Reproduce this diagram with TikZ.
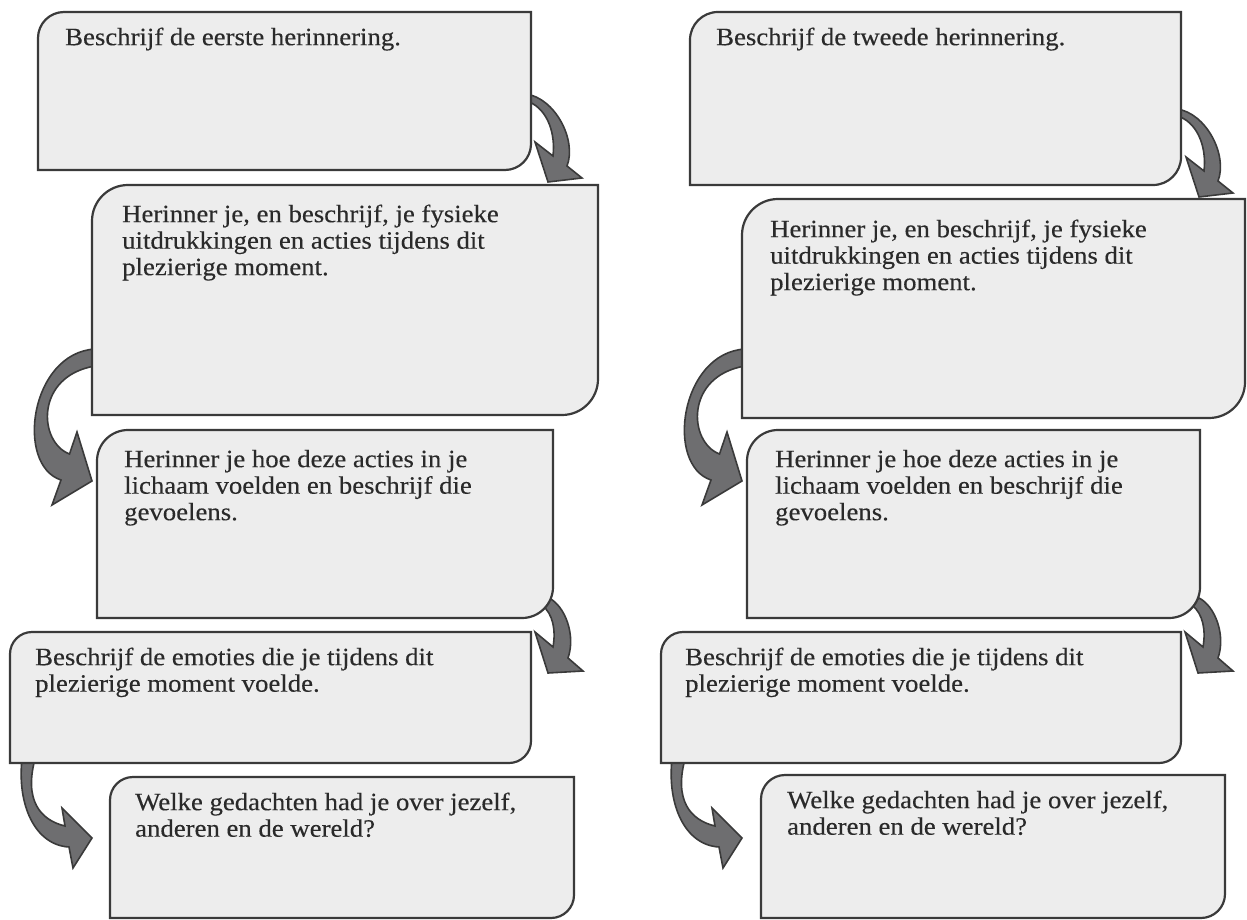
\documentclass[tikz,border=0pt]{standalone}
\usepackage{fontspec}
\setmainfont{Liberation Serif}[FakeStretch=1.07,FakeBold=0.25]
\definecolor{boxfill}{HTML}{EDEDED}
\definecolor{boxline}{HTML}{3A3A3A}
\definecolor{arrowfill}{HTML}{6E6E70}
\definecolor{textcol}{HTML}{2A2A2A}

% box with rounded top-left and bottom-right corners: x1 y1 x2 y2 radius
\newcommand\memobox[5]{%
  \filldraw[boxstyle] (#1,#4) -- (#1,{#2+#5})
    .. controls (#1,{#2+0.448*#5}) and ({#1+0.448*#5},#2) .. ({#1+#5},#2)
    -- (#3,#2) -- (#3,{#4-#5})
    .. controls (#3,{#4-0.448*#5}) and ({#3-0.448*#5},#4) .. ({#3-#5},#4)
    -- cycle;}

% curved block arrows
\newcommand\arrowTopRight{%
  \filldraw[arrowstyle] (526,94) .. controls (555,98) and (577,140) .. (567,166)
    -- (582,178) -- (548,182) -- (535,142) -- (553,156)
    .. controls (556,130) and (545,106) .. (526,101) -- cycle;}
\newcommand\arrowMidLeft{%
  \filldraw[arrowstyle] (95,349) .. controls (30,353) and (15,465) .. (61,480)
    -- (52,505) -- (92,481) -- (77,432) -- (69.5,454)
    .. controls (38,442) and (35,376) .. (95,366) -- cycle;}
\newcommand\arrowMidRight{%
  \filldraw[arrowstyle] (549,598) .. controls (565,606) and (576,635) .. (568,658)
    -- (583,671) -- (548,673) -- (535,632) -- (553,647)
    .. controls (556,630) and (553,614) .. (542,605) -- cycle;}
\newcommand\arrowLowLeft{%
  \filldraw[arrowstyle] (22,759) .. controls (17,805) and (35,845) .. (69,847)
    -- (73,868) -- (92,838) -- (62,808) -- (65,826)
    .. controls (40,820) and (24,800) .. (35,759) -- cycle;}
\newcommand\fl{\rule{0pt}{18pt}}

\begin{document}
\begin{tikzpicture}[x=1pt,y=-1pt,
  boxstyle/.style={fill=boxfill,draw=boxline,line width=2.2pt,line join=miter},
  arrowstyle/.style={fill=arrowfill,draw=boxline,line width=1.6pt,line join=miter},
  txt/.style={font=\fontsize{25}{26.5}\selectfont,align=left,inner sep=0pt,
    text=textcol,anchor=north west}]
\useasboundingbox (0,0) rectangle (1247,920);

% arrows, drawn first so that the boxes cover their roots
\arrowTopRight
\arrowMidLeft
\arrowMidRight
\arrowLowLeft
\begin{scope}[xshift=651pt,yshift=-15pt]\arrowTopRight\end{scope}
\begin{scope}[xshift=650pt]\arrowMidLeft\end{scope}
\begin{scope}[xshift=650pt]\arrowMidRight\end{scope}
\begin{scope}[xshift=650pt]\arrowLowLeft\end{scope}

% left column
\memobox{38}{12}{531}{170}{26}
\memobox{92}{185}{598}{415}{36}
\memobox{97}{430}{553}{618}{31}
\memobox{10}{632}{531}{763}{22}
\memobox{110}{777}{574}{918}{23}

% right column
\memobox{690}{12}{1181}{185}{28}
\memobox{742}{199}{1245}{418}{36}
\memobox{747}{430}{1200}{618}{31}
\memobox{661}{632}{1181}{763}{22}
\memobox{761}{775}{1225}{918}{24}

% texts, left column
\node[txt] (l1) at (65,27) {\fl Beschrijf de eerste herinnering.};
\node[txt] (l2) at (122,204) {\fl Herinner je, en beschrijf, je fysieke\\uitdrukkingen en acties tijdens dit\\plezierige moment.};
\node[txt] (l3) at (124,449) {\fl Herinner je hoe deze acties in je\\lichaam voelden en beschrijf die\\gevoelens.};
\node[txt] (l4) at (35,647) {\fl Beschrijf de emoties die je tijdens dit\\plezierige moment voelde.};
\node[txt] (l5) at (135,792) {\fl Welke gedachten had je over jezelf,\\anderen en de wereld?};

% texts, right column
\node[txt] (r1) at (716,27) {\fl Beschrijf de tweede herinnering.};
\node[txt] (r2) at (770,219) {\fl Herinner je, en beschrijf, je fysieke\\uitdrukkingen en acties tijdens dit\\plezierige moment.};
\node[txt] (r3) at (775,449) {\fl Herinner je hoe deze acties in je\\lichaam voelden en beschrijf die\\gevoelens.};
\node[txt] (r4) at (685,647) {\fl Beschrijf de emoties die je tijdens dit\\plezierige moment voelde.};
\node[txt] (r5) at (787,790) {\fl Welke gedachten had je over jezelf,\\anderen en de wereld?};
\end{tikzpicture}
\end{document}
